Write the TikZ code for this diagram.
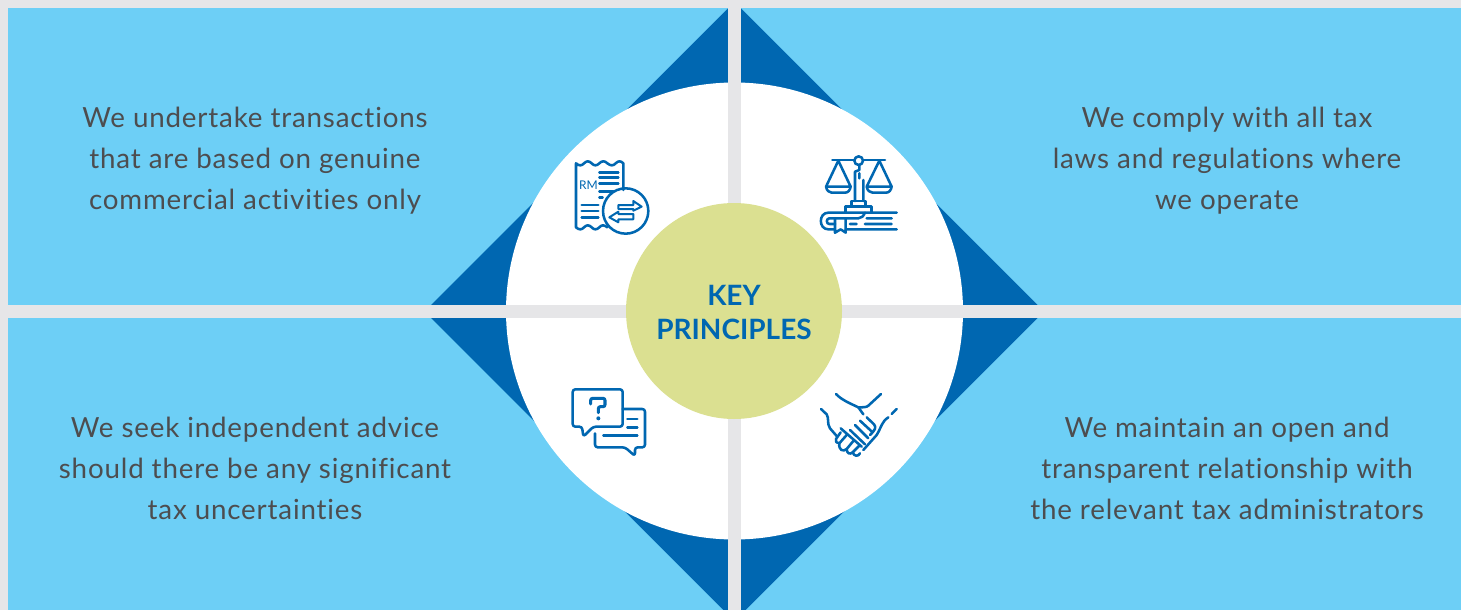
\documentclass[tikz,border=0pt]{standalone}
\usepackage{fontspec}
\setmainfont{Lato}
\newfontfamily\bodyfont[LetterSpace=3,Ligatures=NoCommon]{Lato}
\definecolor{bgrey}{HTML}{E6E6E8}
\definecolor{sky}{HTML}{6DCFF6}
\definecolor{deep}{HTML}{0067B1}
\definecolor{lime}{HTML}{DBE091}
\definecolor{ink}{HTML}{4D4D4F}
\tikzset{
 para/.style={text=ink,align=center,font=\bodyfont\fontsize{20.8}{30.75}\selectfont,inner sep=0pt},
 icon/.style={draw=deep,line width=1.9pt,line cap=round,line join=round,x=0.25pt,y=-0.25pt},
}
\begin{document}
\begin{tikzpicture}[x=0.75pt,y=-0.75pt]
\useasboundingbox (0,0) rectangle (1461,610);
\fill[bgrey] (0,0) rectangle (1461,610);
\fill[sky] (8,8) rectangle (728,305);
\fill[sky] (741,8) rectangle (1461,305);
\fill[sky] (8,318) rectangle (728,610);
\fill[sky] (741,318) rectangle (1461,610);
\begin{scope}
\clip (8,8) rectangle (1461,610);
\fill[deep] (734.5,2) -- (1044,311.5) -- (734.5,621) -- (424.5,311.5) -- cycle;
\end{scope}
\fill[bgrey] (728,0) rectangle (741,610);
\fill[bgrey] (0,305) rectangle (1461,318);
\fill[white] (734.5,311) circle[radius=228.5];
\fill[bgrey] (728,82) rectangle (741,540);
\fill[bgrey] (505,305) rectangle (963,318);
\fill[lime] (734,311) circle[radius=108];
\node[font=\bfseries\fontsize{21}{25.5}\selectfont,text=deep,align=center,inner sep=0pt] (key) at (734,312) {KEY\\PRINCIPLES};
\node[para] (tl) at (255,161) {We undertake transactions\\that are based on genuine\\commercial activities only};
\node[para] (tr) at (1227,161) {We comply with all tax\\laws and regulations where\\we operate};
\node[para] (bl) at (255,468) {We seek independent advice\\should there be any significant\\tax uncertainties};
\node[para] (br) at (1227,468) {We maintain an open and\\transparent relationship with\\the relevant tax administrators};
% receipt
\begin{scope}[shift={(550,140)}]
\draw[icon] (220,150) -- (220,70) .. controls (212,62) and (205,62) .. (197,70) .. controls (190,78) and (182,78) .. (172,70) .. controls (165,62) and (155,62) .. (148,70) .. controls (140,78) and (132,78) .. (125,70) .. controls (117,62) and (110,62) .. (102,70) .. controls (95,78) and (87,78) .. (78,70) -- (78,262) .. controls (87,270) and (95,270) .. (102,262) .. controls (110,254) and (117,254) .. (125,262) .. controls (132,270) and (140,270) .. (148,262) .. controls (155,254) and (162,254) .. (172,262);
\draw[icon] (148,97) -- (205,97) (148,113) -- (205,113) (148,130) -- (205,130) (148,155) -- (190,155) (148,172) -- (158,172) (95,195) -- (145,195) (95,213) -- (145,213) (95,232) -- (145,232);
\draw[icon] (227,213) circle[radius=17pt];
\draw[icon,line width=1.5pt] (205,195) -- (250,195) -- (250,183) -- (275,200) -- (250,212) -- (250,207) -- (205,207) -- cycle;
\draw[icon,line width=1.5pt] (250,222) -- (205,222) -- (205,215) -- (178,232) -- (205,247) -- (205,238) -- (250,238) -- cycle;
\node[text=deep,font=\fontsize{9}{9}\selectfont,inner sep=0pt] (rm) at (38.5,45) {RM};
\end{scope}
% scales
\begin{scope}[shift={(800,140)}]
\draw[icon] (97,60) -- (163,60) (189,60) -- (255,60);
\draw[icon] (176,62) circle[radius=3.25pt];
\draw[icon] (115,62) -- (78,140) -- (152,140) -- cycle (78,140) .. controls (80,152) and (88,158) .. (95,158) -- (135,158) .. controls (145,158) and (150,150) .. (152,140);
\draw[icon] (238,62) -- (200,140) -- (275,140) -- cycle (200,140) .. controls (202,152) and (210,158) .. (218,158) -- (258,158) .. controls (268,158) and (273,150) .. (275,140);
\draw[icon] (165,183) -- (165,95) -- (178,90) -- (178,76) (178,115) -- (178,100) (190,183) -- (190,120);
\draw[icon] (155,200) -- (155,183) -- (197,183) -- (197,200);
\draw[icon] (137,218) -- (137,200) -- (215,200) -- (215,218);
\draw[icon] (290,218) -- (85,218) .. controls (55,218) and (55,268) .. (85,268) -- (105,268) (137,268) -- (290,268);
\draw[icon] (105,235) -- (175,235) .. controls (185,235) and (190,228) .. (195,218) (200,235) -- (275,235) (195,252) -- (275,252) (150,252) -- (170,252);
\draw[icon] (105,235) -- (105,278) -- (122,268) -- (137,278) -- (137,235);
\draw[icon] (105,235) -- (88,235) .. controls (78,235) and (78,252) .. (88,252) -- (105,252);
\end{scope}
% speech
\begin{scope}[shift={(550,370)}]
\draw[icon,rounded corners=2pt] (130,170) -- (218,170) -- (218,58) -- (68,58) -- (68,170) -- (96,170) -- (100,200) -- cycle;
\draw[icon,rounded corners=2pt] (218,117) -- (285,117) -- (285,232) -- (255,232) -- (255,258) -- (225,232) -- (135,232) -- (135,190);
\draw[icon,line width=2.3pt,rounded corners=1.5pt] (122,102) -- (122,85) -- (165,85) -- (165,110) -- (145,110) -- (145,128);
\fill[deep,x=0.25pt,y=-0.25pt] (145,145) circle[radius=1.5pt];
\draw[icon] (232,147) -- (262,147) (232,172) -- (262,172) (160,197) -- (262,197);
\end{scope}
% handshake
\begin{scope}[shift={(800,375)}]
\draw[icon] (108,57) .. controls (125,75) and (150,85) .. (175,97) .. controls (190,97) and (200,97) .. (205,92) -- (243,57);
\draw[icon] (175,97) -- (190,118);
\draw[icon] (63,102) -- (80,118) .. controls (88,130) and (80,145) .. (90,160) -- (110,183);
\draw[icon] (275,117) -- (290,102);
\draw[icon] (265,127) .. controls (245,140) and (245,155) .. (230,180) -- (190,225);
\draw[icon] (200,127) -- (222,148) .. controls (230,158) and (225,165) .. (210,180);
\draw[icon] (180,137) -- (218,172);
\draw[icon] (165,150) -- (205,190);
\draw[icon] (150,165) -- (195,208);
\draw[icon] (122,160) -- (185,215);
\draw[icon] (122,172) -- (108,192) .. controls (105,200) and (110,205) .. (118,205) -- (140,180);
\draw[icon] (118,205) .. controls (115,225) and (130,232) .. (140,222) -- (160,198);
\draw[icon] (140,222) .. controls (140,235) and (150,240) .. (158,232) -- (180,210);
\draw[icon] (158,232) .. controls (162,245) and (175,245) .. (180,235);
\end{scope}
\end{tikzpicture}
\end{document}
